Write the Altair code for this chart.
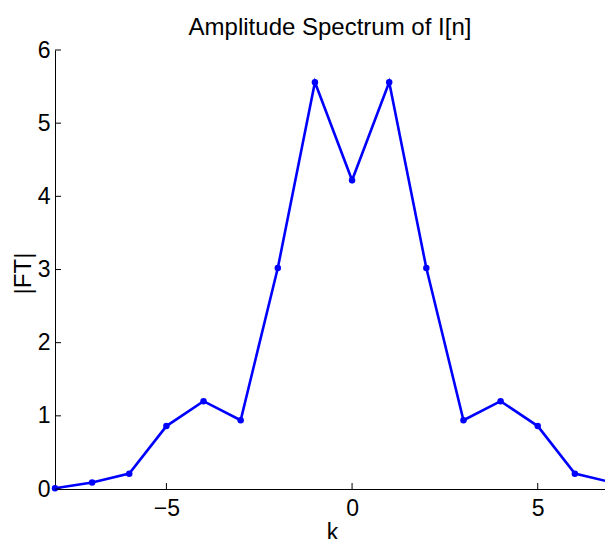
import altair as alt
import pandas as pd

k = [-8, -7, -6, -5, -4, -3, -2, -1, 0, 1, 2, 3, 4, 5, 6, 7]
ft = [0.01, 0.09, 0.21, 0.86, 1.2, 0.94, 3.02, 5.56, 4.22, 5.56, 3.02, 0.94, 1.2, 0.86, 0.21, 0.09]
x_ticks = [-5, 0, 5]
y_ticks = [0, 1, 2, 3, 4, 5, 6]

W, H = 550, 439
FONT = "Liberation Sans"
FS = 23

df = pd.DataFrame({"k": k, "ft": ft})
xs = alt.Scale(domain=[-8, 7], nice=False, zero=False, range=[0, 557])
ys = alt.Scale(domain=[0, 6], nice=False)

base = alt.Chart(df)

line = base.mark_line(color="#0000ff", strokeWidth=2.6).encode(
    x=alt.X("k:Q", scale=xs,
            axis=alt.Axis(values=x_ticks, title="k", grid=False, tickSize=0,
                          labelPadding=8, titlePadding=1, domainColor="black",
                          labelColor="black", titleColor="black", format="d",
                          labelFontSize=FS, titleFontSize=FS, labelFont=FONT,
                          titleFont=FONT, titleFontWeight="normal",
                          titleX=277, titleAnchor="middle")),
    y=alt.Y("ft:Q", scale=ys,
            axis=alt.Axis(values=y_ticks, title="|FT|", grid=False, tickSize=0,
                          labelPadding=5, domainColor="black", format="d",
                          labelColor="black", titleColor="black",
                          labelFontSize=FS, titleFontSize=24, labelFont=FONT,
                          titleFont=FONT, titleFontWeight="normal",
                          titleX=-24.5, titleY=223, titleBaseline="alphabetic",
                          titleAlign="center", titleAngle=270)),
)

pts = base.mark_circle(color="#0000ff", size=42, opacity=1).encode(
    x=alt.X("k:Q", scale=xs), y=alt.Y("ft:Q", scale=ys)
)

xt = alt.Chart(pd.DataFrame({"t": x_ticks})).mark_rule(color="black", strokeWidth=1).encode(
    x=alt.X("t:Q", scale=xs), y=alt.value(H), y2=alt.value(H - 6)
)
yt = alt.Chart(pd.DataFrame({"t": y_ticks})).mark_rule(color="black", strokeWidth=1).encode(
    y=alt.Y("t:Q", scale=ys), x=alt.value(0), x2=alt.value(6)
)

chart = alt.layer(line, pts, xt, yt).properties(
    width=W, height=H,
    title=alt.TitleParams("Amplitude Spectrum of I[n]", fontSize=24, font=FONT,
                          fontWeight="normal", color="black", offset=-1),
    autosize=alt.AutoSizeParams(type="none"),
    padding={"left": 47, "top": 42, "right": 0, "bottom": 50},
).configure_view(stroke=None).configure_axis(domainWidth=1)

chart.save("out.html", embed_options={"renderer": "svg", "actions": False})
